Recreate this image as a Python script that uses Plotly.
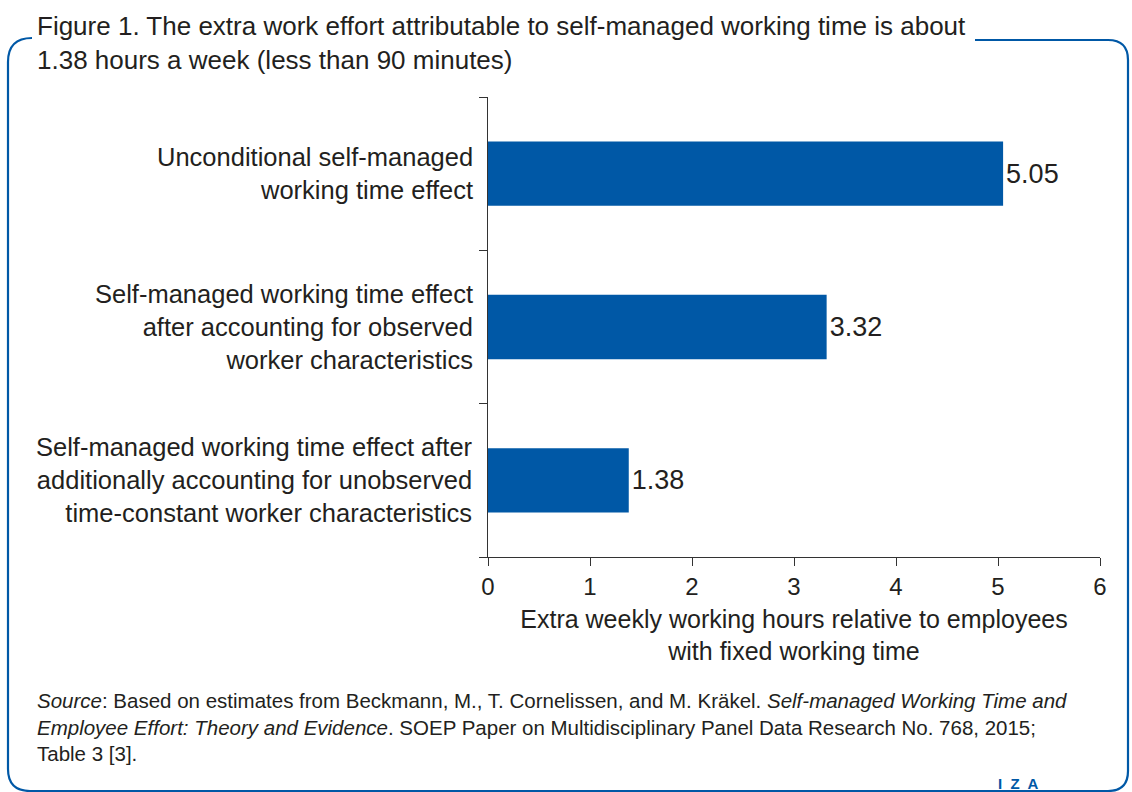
import plotly.graph_objects as go

categories = [
    "Unconditional self-managed<br>working time effect",
    "Self-managed working time effect<br>after accounting for observed<br>worker characteristics",
    "Self-managed working time effect after<br>additionally accounting for unobserved<br>time-constant worker characteristics",
]
values = [5.05, 3.32, 1.38]
value_labels = ["5.05", "3.32", "1.38"]
positions = [2, 1, 0]
x_ticks = [0, 1, 2, 3, 4, 5, 6]

BLUE = "#0058a6"
TXT = "#231f20"
W, H = 1132, 792
FONT = "Liberation Sans, Arial, sans-serif"

fig = go.Figure()
fig.add_trace(go.Bar(
    x=values, y=positions, orientation="h", width=0.42,
    marker=dict(color=BLUE, line=dict(width=0)),
    text=value_labels, textposition="outside",
    textfont=dict(family=FONT, size=27, color=TXT),
    cliponaxis=False, hoverinfo="skip",
))

for c, p in zip(categories, positions):
    fig.add_annotation(x=0, y=p, xref="x", yref="y", text=c, showarrow=False,
                       xanchor="right", yanchor="middle", align="right", xshift=-13,
                       font=dict(family=FONT, size=25.5, color=TXT))

pl, pr, pt, pb = 488, 32, 97, 235
fig.update_layout(
    width=W, height=H,
    margin=dict(l=pl, r=pr, t=pt, b=pb),
    paper_bgcolor="white", plot_bgcolor="white",
    showlegend=False,
    xaxis=dict(range=[0, 6], tickvals=x_ticks, ticks="outside", ticklen=8, tickcolor="#333",
               showline=True, linecolor="#333", linewidth=1.3, showgrid=False, zeroline=False,
               tickfont=dict(family=FONT, size=24, color=TXT),
               title=dict(text="Extra weekly working hours relative to employees<br>with fixed working time",
                          font=dict(family=FONT, size=25, color=TXT),
                          standoff=11)),
    yaxis=dict(range=[-0.5, 2.5], tickvals=[-0.5, 0.5, 1.5, 2.5], ticktext=["", "", "", ""],
               ticks="outside", ticklen=8, tickcolor="#333",
               showline=True, linecolor="#333", linewidth=1.3, showgrid=False, zeroline=False),
)

pw, ph = W - pl - pr, H - pt - pb
def px(x): return (x - pl) / pw
def py(y): return (H - pb - y) / ph

frame_path = (
    f"M {px(975)},{py(40)} L {px(1108)},{py(40)} "
    f"Q {px(1128)},{py(40)} {px(1128)},{py(60)} "
    f"L {px(1128)},{py(771)} Q {px(1128)},{py(791)} {px(1108)},{py(791)} "
    f"L {px(30)},{py(791)} Q {px(8)},{py(791)} {px(8)},{py(769)} "
    f"L {px(8)},{py(62)} Q {px(8)},{py(38)} {px(32)},{py(38)}"
)
fig.layout.shapes = [dict(type="path", xref="paper", yref="paper", path=frame_path,
                          line=dict(color=BLUE, width=2.2), layer="below")]

fig.add_annotation(x=px(35), y=py(9), xref="paper", yref="paper", xanchor="left", yanchor="top",
                   align="left", showarrow=False,
                   text="Figure 1. The extra work effort attributable to self-managed working time is about<br>1.38 hours a week (less than 90 minutes)",
                   font=dict(family=FONT, size=26, color=TXT))

fig.add_annotation(x=px(35), y=py(687), xref="paper", yref="paper", xanchor="left", yanchor="top",
                   align="left", showarrow=False,
                   text="<i>Source</i>: Based on estimates from Beckmann, M., T. Cornelissen, and M. Kräkel. <i>Self-managed Working Time and</i><br>"
                        "<i>Employee Effort: Theory and Evidence</i>. SOEP Paper on Multidisciplinary Panel Data Research No. 768, 2015;<br>"
                        "Table 3 [3].",
                   font=dict(family=FONT, size=20.5, color=TXT))

fig.add_annotation(x=px(1018), y=py(783), xref="paper", yref="paper", xanchor="center", yanchor="middle",
                   showarrow=False, text="<b>I  Z  A</b>",
                   font=dict(family=FONT, size=15, color=BLUE))

fig.write_html("out.html", config={"displayModeBar": False},
               post_script="document.body.style.margin='0';")
